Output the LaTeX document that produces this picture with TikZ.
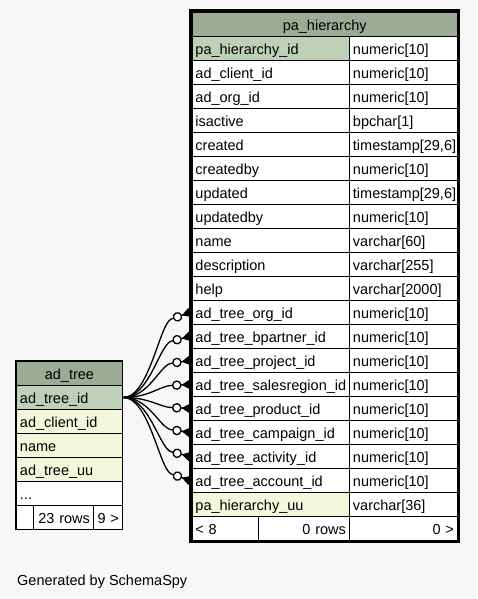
\documentclass[tikz,border=0pt]{standalone}
\usepackage{fontspec}
\setmainfont{Liberation Sans}
\usetikzlibrary{arrows.meta,calc}
\definecolor{bgc}{HTML}{F7F7F7}
\definecolor{headc}{HTML}{9BAB96}
\definecolor{pkc}{HTML}{BED1B8}
\definecolor{idxc}{HTML}{F4F7DA}
\tikzset{
  cell/.style={draw=black, line width=0.9pt, anchor=north west, fill=white,
    minimum height=24pt, inner xsep=3.5pt, inner ysep=0pt,
    text height=12pt, text depth=0pt, align=left,
    font=\fontsize{14.5}{17}\selectfont},
  rcell/.style={cell, align=right},
  hcell/.style={cell, fill=headc, align=center},
  fk/.style={line width=1.3pt, black,
    -{Circle[open,fill=white,length=9.5pt,width=9.5pt] Triangle[reversed,length=8.5pt,width=9.5pt]}},
  caption/.style={font=\fontsize{14.5}{17}\selectfont, inner sep=0pt, anchor=base west}
}
\begin{document}
\begin{tikzpicture}[x=1pt,y=-1pt]
\useasboundingbox (0,0) rectangle (477,599);
\fill[bgc] (0,0) rectangle (477,599);

% ---- pa_hierarchy table ----
\node[hcell, text width=258.5pt] (ph) at (191.5,12) {pa\_hierarchy};
\foreach \n/\t [count=\i from 0] in {
  {pa\_hierarchy\_id}/{numeric[10]},
  {ad\_client\_id}/{numeric[10]},
  {ad\_org\_id}/{numeric[10]},
  {isactive}/{bpchar[1]},
  {created}/{timestamp[29,6]},
  {createdby}/{numeric[10]},
  {updated}/{timestamp[29,6]},
  {updatedby}/{numeric[10]},
  {name}/{varchar[60]},
  {description}/{varchar[255]},
  {help}/{varchar[2000]},
  {ad\_tree\_org\_id}/{numeric[10]},
  {ad\_tree\_bpartner\_id}/{numeric[10]},
  {ad\_tree\_project\_id}/{numeric[10]},
  {ad\_tree\_salesregion\_id}/{numeric[10]},
  {ad\_tree\_product\_id}/{numeric[10]},
  {ad\_tree\_campaign\_id}/{numeric[10]},
  {ad\_tree\_activity\_id}/{numeric[10]},
  {ad\_tree\_account\_id}/{numeric[10]},
  {pa\_hierarchy\_uu}/{varchar[36]}}
{
  \ifnum\i=0 \def\cc{pkc}\else\ifnum\i=19 \def\cc{idxc}\else\def\cc{white}\fi\fi
  \node[cell, fill=\cc, text width=150.5pt] (hc\i) at (191.5,36+24*\i) {\n};
  \node[cell, text width=101pt] (ht\i) at (349,36+24*\i) {\t};
}
\node[cell, text width=59pt] (hf1) at (191.5,516) {< 8};
\node[rcell, text width=84.5pt] (hf2) at (257.5,516) {0 rows};
\node[rcell, text width=101pt] (hf3) at (349,516) {0 >};
\draw[line width=3pt] (190,10.5) rectangle (458.5,541.5);

% ---- ad_tree table ----
\node[hcell, text width=99pt] (ah) at (16,361) {ad\_tree};
\node[cell, fill=pkc, text width=99pt] (ac0) at (16,385) {ad\_tree\_id};
\node[cell, fill=idxc, text width=99pt] (ac1) at (16,409) {ad\_client\_id};
\node[cell, fill=idxc, text width=99pt] (ac2) at (16,433) {name};
\node[cell, fill=idxc, text width=99pt] (ac3) at (16,457) {ad\_tree\_uu};
\node[cell, text width=99pt] (ac4) at (16,481) {...};
\node[cell, text width=10pt] (af1) at (16,505) {};
\node[rcell, text width=53pt] (af2) at (33,505) {23 rows};
\node[rcell, text width=22pt] (af3) at (93,505) {9 >};
\draw[line width=1.7pt] (15.5,360.5) rectangle (122.5,529.5);

% ---- foreign key connectors ----
\foreach \k/\d in {11/6.7, 12/4.8, 13/2.9, 14/1.0, 15/-0.9, 16/-2.8, 17/-4.7, 18/-6.6}
{
  \draw[fk] ([xshift=0.5pt]ac0.east) .. controls ($(ac0.east)+(26,0)$) and ($(hc\k.west)+(-32,1.8*\d)$)
    .. ($(hc\k.west)+(-20.5,\d)$) -- ($(hc\k.west)+(-1.5,0)$);
}

\node[caption] (gen) at (17,585) {Generated by SchemaSpy};
\end{tikzpicture}
\end{document}
